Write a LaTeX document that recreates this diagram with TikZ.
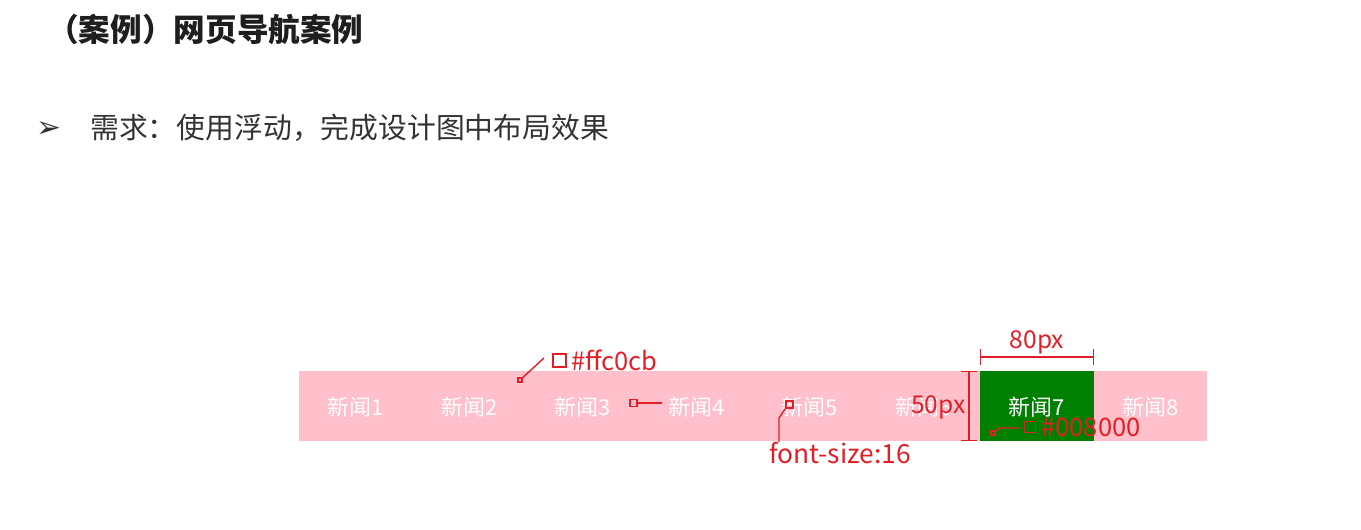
\documentclass[tikz,border=0pt]{standalone}
\usepackage{fontspec}
\setmainfont{Noto Sans CJK SC}
\newfontfamily\symfont{DejaVu Sans}
\usetikzlibrary{positioning,arrows.meta}
\definecolor{navpink}{HTML}{FFC0CB}
\definecolor{navgreen}{HTML}{008000}
\definecolor{annored}{RGB}{228,30,38}
\definecolor{titlegray}{HTML}{1E1E1E}
\definecolor{textgray}{HTML}{333333}
\begin{document}
\begin{tikzpicture}[x=0.02cm,y=-0.02cm,
    navitem/.style={text=white,inner sep=0,font=\fontsize{12.5pt}{14pt}\selectfont},
    annotext/.style={text=annored,inner sep=0,font=\fontsize{#1}{#1}\selectfont},
    annotext/.default=13.5pt,
    annobox/.style={draw=annored,line width=0.8pt,inner sep=0,minimum size=#1},
    annoline/.style={draw=annored,line width=0.8pt}]
    \useasboundingbox (0,0) rectangle (1361,530);
    % heading
    \node[anchor=west,inner sep=0,text=titlegray,font=\fontsize{18pt}{20pt}\selectfont\bfseries] (title) at (47,30) {（案例）网页导航案例};
    \node[inner sep=0,text=textgray,font=\symfont\fontsize{17pt}{19pt}\selectfont] (bullet) at (49,130) {➢};
    \node[anchor=west,inner sep=0,text=textgray,font=\fontsize{16.4pt}{18pt}\selectfont] (need) at (90,128) {需求：使用浮动，完成设计图中布局效果};
    % nav bar
    \fill[navpink] (299,371) rectangle (1207,441);
    \fill[navgreen] (980,371) rectangle (1094,441);
    \node[navitem] (n1) at (355.75,407) {新闻1};
    \node[navitem] (n2) at (469.25,407) {新闻2};
    \node[navitem] (n3) at (582.75,407) {新闻3};
    \node[navitem] (n4) at (696.25,407) {新闻4};
    \node[navitem] (n5) at (809.75,407) {新闻5};
    \node[navitem] (n6) at (923.25,407) {新闻6};
    \node[navitem] (n7) at (1037,407) {新闻7};
    \node[navitem] (n8) at (1150.25,407) {新闻8};
    % background colour note
    \node[annobox=0.08cm] (d1) at (520,380) {};
    \node[annobox=0.26cm] (s1) at (559.5,360.5) {};
    \node[annotext=14.5pt,anchor=west,right=0.08cm of s1] (t1) {\#ffc0cb};
    \coordinate (c1) at (544,358);
    \draw[annoline] (d1) -- (c1);
    % spacing note
    \node[annobox=0.14cm] (s2) at (633.5,403) {};
    \coordinate (c2) at (662,403);
    \draw[annoline] (s2) -- (c2);
    % font size note
    \node[annobox=0.14cm] (s3) at (789.5,404.5) {};
    \node[annotext=15pt] (t3) at (840,453) {font-size:16};
    \coordinate (c3) at (779,418);
    \draw[annoline] (s3.south west) -- (c3) -- (c3 |- t3.north);
    % size notes
    \coordinate (w1) at (980,357);
    \coordinate (w2) at (1094,357);
    \draw[annoline,{Bar[width=9pt]}-{Bar[width=9pt]}] (w1) -- (w2);
    \node[annotext=14pt,above=0.05cm of w1,xshift=1.14cm] (t5) {80px};
    \coordinate (h1) at (969,371);
    \coordinate (h2) at (969,441);
    \draw[annoline,{Bar[width=9pt]}-{Bar[width=9pt]}] (h1) -- (h2);
    \node[annotext=14pt,anchor=east] (t6) at (966,407) {50px};
    % active colour note
    \node[annobox=0.08cm] (d4) at (993,433) {};
    \node[annobox=0.22cm] (s4) at (1030,427) {};
    \node[annotext=14.5pt,anchor=west,right=0.1cm of s4] (t4) {\#008000};
    \coordinate (c4) at (1000,428);
    \coordinate (c5) at (1019,428);
    \draw[annoline] (d4) -- (c4) -- (c5);
\end{tikzpicture}
\end{document}
